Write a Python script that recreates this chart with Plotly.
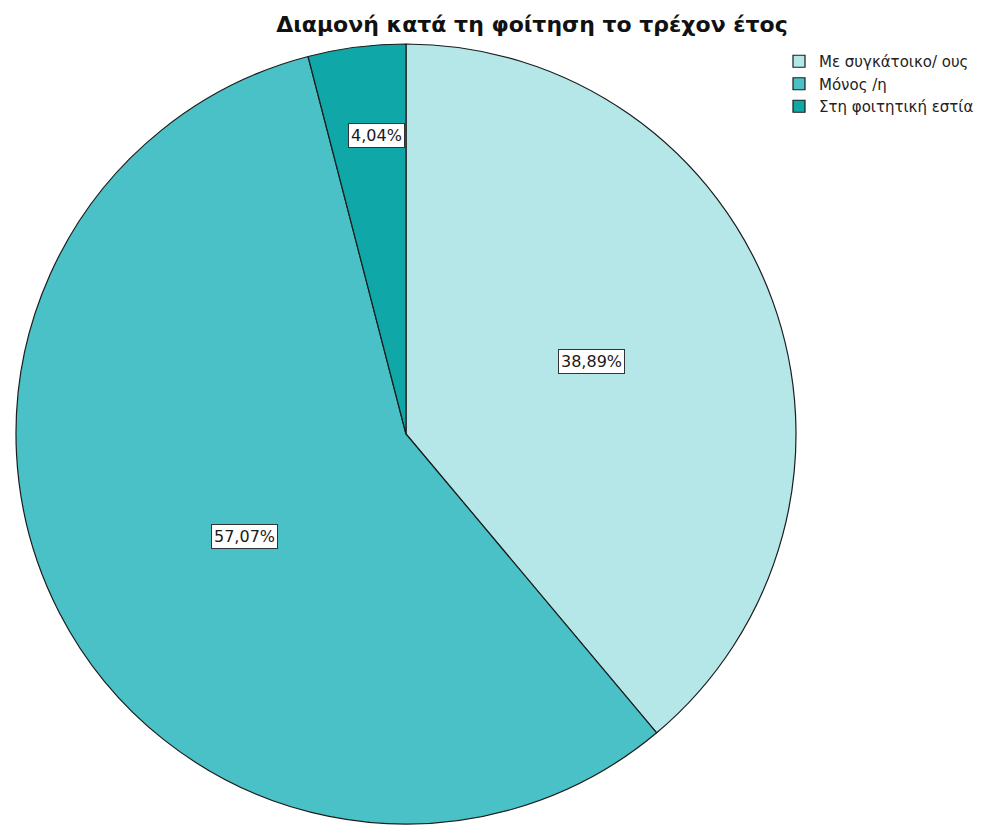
import math
import plotly.graph_objects as go

categories = ["Με συγκάτοικο/ ους", "Μόνος /η", "Στη φοιτητική εστία"]
values = [38.89, 57.07, 4.04]
label_texts = ["38,89%", "57,07%", "4,04%"]

colors = ["#B5E6E8", "#49C1C6", "#0FA7A8"]
label_radius_frac = [0.51, 0.49, 0.77]
label_angle_shift_deg = [-1.5, -5.1, 1.7]

W, H = 989, 825
cx_px, top_px, R = 406, 44, 390

dom_x = [(cx_px - R) / W, (cx_px + R) / W]
dom_y = [max(0.0, 1 - (top_px + 2 * R) / H), 1 - top_px / H]
cy_px = top_px + R

FONT = "DejaVu Sans, Verdana, sans-serif"

fig = go.Figure()
fig.add_trace(go.Pie(
    labels=categories,
    values=values,
    sort=False,
    direction="clockwise",
    rotation=0,
    marker=dict(colors=colors, line=dict(color="#1c1c1c", width=1.2)),
    textinfo="none",
    hoverinfo="label+percent",
    domain=dict(x=dom_x, y=dom_y),
))

total = sum(values)
cum = 0.0
for v, t, f, s in zip(values, label_texts, label_radius_frac, label_angle_shift_deg):
    mid = (cum + v / 2) / total * 2 * math.pi + math.radians(s)
    cum += v
    px = cx_px + R * f * math.sin(mid)
    py = cy_px - R * f * math.cos(mid)
    fig.add_annotation(
        x=px / W, y=1 - py / H, xref="paper", yref="paper",
        xanchor="center", yanchor="middle",
        text=t, showarrow=False,
        font=dict(family=FONT, size=16, color="#1a1a1a"),
        bgcolor="white", bordercolor="#333333", borderwidth=1, borderpad=2,
    )

fig.update_layout(
    width=W, height=H,
    margin=dict(l=0, r=0, t=0, b=0),
    paper_bgcolor="white",
    plot_bgcolor="white",
    title=dict(
        text="<b>Διαμονή κατά τη φοίτηση το τρέχον έτος</b>",
        x=532 / W, xanchor="center", y=1 - 24 / H, yanchor="middle",
        font=dict(family=FONT, size=22, color="#111111"),
    ),
    legend=dict(
        x=779 / W, xanchor="left", y=1 - 45 / H, yanchor="top",
        font=dict(family=FONT, size=15, color="#222222"),
        bgcolor="rgba(0,0,0,0)",
        itemwidth=30,
        tracegroupgap=0,
    ),
    showlegend=True,
)

fig.write_html("out.html")
